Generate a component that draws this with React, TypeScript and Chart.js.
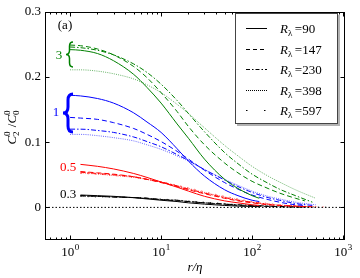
import React, { useEffect, useRef } from "react";
import { Chart, registerables } from "chart.js";

Chart.register(...registerables);

// ---- data ----
const reLabels = ["90", "147", "230", "398", "597"];

const r90 = [1, 1.3, 2, 3, 5, 7, 10, 15, 20, 30, 50, 70, 100, 120];
const r147 = [1, 1.3, 2, 3, 5, 7, 10, 15, 20, 30, 50, 70, 100, 150, 200, 300, 380];
const r230 = [1, 1.3, 2, 3, 5, 7, 10, 15, 20, 30, 50, 70, 100, 150, 200, 300, 460];
const r398 = [1, 1.3, 2, 3, 5, 7, 10, 15, 20, 30, 50, 70, 100, 150, 200, 300, 500];
const r597 = [1, 1.3, 2, 3, 5, 7, 10, 15, 20, 30, 50, 70, 100, 150, 200, 300, 500, 700];

// group l = 3 (green)
const green90 = [0.242, 0.241, 0.236, 0.225, 0.204, 0.184, 0.160, 0.128, 0.106, 0.074, 0.043, 0.029, 0.018, 0.014];
const green147 = [0.249, 0.248, 0.243, 0.234, 0.216, 0.199, 0.176, 0.147, 0.124, 0.096, 0.068, 0.053, 0.040, 0.029, 0.022, 0.014, 0.010];
const green230 = [0.246, 0.245, 0.241, 0.234, 0.220, 0.207, 0.189, 0.164, 0.144, 0.116, 0.084, 0.067, 0.051, 0.037, 0.028, 0.018, 0.008];
const green398 = [0.211, 0.211, 0.209, 0.205, 0.197, 0.188, 0.176, 0.158, 0.144, 0.122, 0.095, 0.079, 0.063, 0.048, 0.039, 0.027, 0.014];

// group l = 1 (blue)
const blue90 = [0.172, 0.171, 0.167, 0.160, 0.145, 0.131, 0.115, 0.090, 0.071, 0.048, 0.027, 0.018, 0.011, 0.009];
const blue147 = [0.138, 0.137, 0.135, 0.130, 0.121, 0.112, 0.101, 0.086, 0.074, 0.057, 0.038, 0.028, 0.019, 0.012, 0.008, 0.004, 0.003];
const blue230 = [0.120, 0.120, 0.118, 0.115, 0.108, 0.101, 0.093, 0.081, 0.072, 0.058, 0.042, 0.032, 0.023, 0.015, 0.011, 0.006, 0.003];
const blue398 = [0.112, 0.112, 0.110, 0.107, 0.102, 0.096, 0.089, 0.079, 0.071, 0.058, 0.043, 0.034, 0.025, 0.017, 0.013, 0.008, 0.004];

// group l = 0.5 (red)
const red90 = [null, 0.066, 0.063, 0.059, 0.052, 0.046, 0.039, 0.031, 0.025, 0.017, 0.010, 0.007, 0.004, 0.003];
const red147 = [null, 0.055, 0.053, 0.051, 0.047, 0.043, 0.038, 0.032, 0.027, 0.021, 0.014, 0.010, 0.007, 0.004, 0.003, 0.002, 0.001];
const red230 = [null, 0.054, 0.052, 0.050, 0.047, 0.043, 0.039, 0.033, 0.028, 0.022, 0.015, 0.011, 0.008, 0.005, 0.003, 0.002, 0.001];
const red398 = [null, 0.053, 0.051, 0.049, 0.046, 0.043, 0.039, 0.033, 0.029, 0.023, 0.016, 0.012, 0.008, 0.005, 0.004, 0.002, 0.001];
const red597 = [null, 0.052, 0.051, 0.049, 0.046, 0.043, 0.039, 0.034, 0.030, 0.024, 0.017, 0.013, 0.009, 0.006, 0.004, 0.002, 0.001, 0.0005];

// group l = 0.3 (black)
const black90 = [null, 0.019, 0.018, 0.017, 0.015, 0.013, 0.011, 0.009, 0.007, 0.005, 0.003, 0.002, 0.0015, 0.001];
const black147 = [null, 0.018, 0.017, 0.016, 0.015, 0.014, 0.012, 0.010, 0.009, 0.007, 0.005, 0.003, 0.002, 0.0015, 0.001, 0.0005, 0.0003];
const black230 = [null, 0.018, 0.017, 0.016, 0.015, 0.014, 0.012, 0.011, 0.009, 0.007, 0.005, 0.004, 0.003, 0.002, 0.0015, 0.001, 0.0005];
const black398 = [null, 0.017, 0.017, 0.016, 0.015, 0.014, 0.012, 0.011, 0.009, 0.007, 0.005, 0.004, 0.003, 0.002, 0.0015, 0.001, 0.0005];
const black597 = [null, 0.017, 0.016, 0.016, 0.015, 0.014, 0.013, 0.011, 0.010, 0.008, 0.006, 0.004, 0.003, 0.002, 0.0015, 0.001, 0.0005, 0.0003];

const groupLabels = ["3", "1", "0.5", "0.3"];
const yTicks = [0, 0.1, 0.2, 0.3];
const xTicks = [1, 10, 100, 1000];
const xRange = [0.53, 1050];
const yRange = [-0.05, 0.3];
const zeroLineY = [0, 0];

// ---- styles ----
const rArrays = [r90, r147, r230, r398, r597];
const groups = [
  { rgb: "0,128,0", series: [green90, green147, green230, green398, null] },
  { rgb: "0,0,255", series: [blue90, blue147, blue230, blue398, null] },
  { rgb: "255,0,0", series: [red90, red147, red230, red398, red597] },
  { rgb: "0,0,0", series: [black90, black147, black230, black398, black597] },
];
const dashes: number[][] = [[], [5, 3], [5, 2, 1.5, 2], [1, 1.2], [1.2, 6]];
const alphas = [1, 1, 1, 0.6, 0.7];
const legendDashes: number[][] = [[], [4, 3], [4, 2, 1.5, 2], [1, 1], [1.5, 16.5]];
const SERIF = '"Liberation Serif", "DejaVu Serif", serif';

function drawBrace(ctx: CanvasRenderingContext2D, x: number, yTop: number, yBot: number, w: number) {
  const mid = (yTop + yBot) / 2;
  const xm = x + w / 2;
  const c = Math.min(6, (yBot - yTop) / 6);
  ctx.beginPath();
  ctx.moveTo(x + w, yTop);
  ctx.quadraticCurveTo(xm, yTop, xm, yTop + c);
  ctx.lineTo(xm, mid - c);
  ctx.quadraticCurveTo(xm, mid, x, mid);
  ctx.quadraticCurveTo(xm, mid, xm, mid + c);
  ctx.lineTo(xm, yBot - c);
  ctx.quadraticCurveTo(xm, yBot, x + w, yBot);
  ctx.stroke();
}

const overlayPlugin = {
  id: "overlay",
  afterDraw(chart: any) {
    const { ctx, chartArea: a, scales } = chart;
    const xs = scales.x;
    const ys = scales.y;
    ctx.save();
    // frame
    ctx.strokeStyle = "#000";
    ctx.lineWidth = 1;
    const L = Math.round(a.left) + 0.5;
    const R = Math.round(a.right) - 0.5;
    const T = Math.round(a.top) + 0.5;
    const B = Math.round(a.bottom) - 0.5;
    ctx.strokeRect(L, T, R - L, B - T);
    // x ticks (inward, top and bottom)
    ctx.beginPath();
    for (let n = -1; n <= 3; n++) {
      for (let k = 1; k <= 9; k++) {
        const v = k * Math.pow(10, n);
        if (v < xRange[0] || v > xRange[1]) continue;
        const px = Math.round(xs.getPixelForValue(v)) + 0.5;
        const len = k === 1 ? 4 : 2;
        ctx.moveTo(px, B);
        ctx.lineTo(px, B - len);
        ctx.moveTo(px, T);
        ctx.lineTo(px, T + len);
      }
    }
    for (const v of yTicks) {
      const py = Math.round(ys.getPixelForValue(v)) + 0.5;
      ctx.moveTo(L, py);
      ctx.lineTo(L + 4, py);
      ctx.moveTo(R, py);
      ctx.lineTo(R - 4, py);
    }
    ctx.stroke();

    // x tick labels 10^n
    ctx.fillStyle = "#000";
    ctx.textBaseline = "alphabetic";
    xTicks.forEach((v) => {
      const px = xs.getPixelForValue(v);
      const exp = String(Math.round(Math.log10(v)));
      ctx.font = `13px ${SERIF}`;
      const w1 = ctx.measureText("10").width;
      ctx.font = `9px ${SERIF}`;
      const w2 = ctx.measureText(exp).width;
      const x0 = px - (w1 + w2) / 2;
      ctx.font = `13px ${SERIF}`;
      ctx.textAlign = "left";
      ctx.fillText("10", x0, a.bottom + 16);
      ctx.font = `9px ${SERIF}`;
      ctx.fillText(exp, x0 + w1 + 0.5, a.bottom + 10);
    });

    // x title
    ctx.font = `italic 13px ${SERIF}`;
    ctx.textAlign = "center";
    ctx.fillText("r/η", (a.left + a.right) / 2, 271);

    // y title (rotated) C_2^0 / C_0^0
    ctx.save();
    ctx.translate(16, 127);
    ctx.rotate(-Math.PI / 2);
    ctx.font = `italic 13px ${SERIF}`;
    const cw = ctx.measureText("C").width;
    ctx.font = `9px ${SERIF}`;
    const sw = ctx.measureText("0").width;
    ctx.font = `13px ${SERIF}`;
    const slw = ctx.measureText(" /").width;
    const total = cw + sw + 1 + slw + cw + sw + 1;
    let cx = -total / 2;
    ctx.textAlign = "left";
    ctx.font = `italic 13px ${SERIF}`;
    ctx.fillText("C", cx, 0);
    cx += cw;
    ctx.font = `9px ${SERIF}`;
    ctx.fillText("0", cx, -6);
    ctx.fillText("2", cx, 3);
    cx += sw + 1;
    ctx.font = `13px ${SERIF}`;
    ctx.fillText(" /", cx, 0);
    cx += slw;
    ctx.font = `italic 13px ${SERIF}`;
    ctx.fillText("C", cx, 0);
    cx += cw;
    ctx.font = `9px ${SERIF}`;
    ctx.fillText("0", cx, -6);
    ctx.fillText("0", cx, 3);
    ctx.restore();

    // panel label
    ctx.font = `13px ${SERIF}`;
    ctx.textAlign = "center";
    ctx.textBaseline = "middle";
    ctx.fillStyle = "#000";
    ctx.fillText("(a)", 65, 26);

    // group labels and braces
    ctx.fillStyle = "rgb(0,128,0)";
    ctx.fillText(groupLabels[0], 59, 56);
    ctx.strokeStyle = "rgb(0,128,0)";
    ctx.lineWidth = 1.5;
    drawBrace(ctx, 66, 42, 67, 7);

    ctx.fillStyle = "rgb(0,0,255)";
    ctx.fillText(groupLabels[1], 56, 113);
    ctx.strokeStyle = "rgb(0,0,255)";
    ctx.lineWidth = 3;
    drawBrace(ctx, 63, 94, 132, 10);

    ctx.fillStyle = "rgb(255,0,0)";
    ctx.fillText(groupLabels[2], 68, 168);
    ctx.fillStyle = "#000";
    ctx.fillText(groupLabels[3], 68, 195);

    // legend
    const bx = 235, by = 13, bw = 103, bh = 111;
    ctx.fillStyle = "rgba(0,0,0,0.3)";
    ctx.fillRect(bx + 2, by + 2, bw, bh);
    ctx.fillStyle = "#fff";
    ctx.fillRect(bx, by, bw, bh);
    ctx.strokeStyle = "#444";
    ctx.lineWidth = 1;
    ctx.strokeRect(bx + 0.5, by + 0.5, bw - 1, bh - 1);
    reLabels.forEach((lab, i) => {
      const yy = Math.round(28 + i * 20.5) + 0.5;
      ctx.strokeStyle = "#000";
      ctx.lineWidth = 1;
      ctx.setLineDash(legendDashes[i]);
      ctx.beginPath();
      ctx.moveTo(246, yy);
      ctx.lineTo(267, yy);
      ctx.stroke();
      ctx.setLineDash([]);
      ctx.fillStyle = "#000";
      ctx.textAlign = "left";
      ctx.textBaseline = "alphabetic";
      ctx.font = `italic 13px ${SERIF}`;
      ctx.fillText("R", 280, yy + 4.5);
      const rw = ctx.measureText("R").width;
      ctx.font = `9px ${SERIF}`;
      ctx.fillText("λ", 280 + rw, yy + 7);
      const lw = ctx.measureText("λ").width;
      ctx.font = `13px ${SERIF}`;
      ctx.fillText("=" + lab, 280 + rw + lw + 2.5, yy + 4.5);
    });
    ctx.restore();
  },
};

export default function App() {
  const ref = useRef<HTMLCanvasElement | null>(null);
  useEffect(() => {
    if (!ref.current) return;
    const datasets: any[] = [
      {
        data: xRange.map((x, i) => ({ x, y: zeroLineY[i] })),
        borderColor: "#000",
        borderWidth: 1,
        borderDash: [1.5, 2],
        pointRadius: 0,
      },
    ];
    groups.forEach((g) => {
      g.series.forEach((vals, j) => {
        if (!vals) return;
        const rs = rArrays[j];
        datasets.push({
          data: rs.map((x, i) => ({ x, y: vals[i] })).filter((p) => p.y !== null),
          borderColor: `rgba(${g.rgb},${alphas[j]})`,
          borderWidth: 1,
          borderDash: dashes[j],
          pointRadius: 0,
          cubicInterpolationMode: "monotone",
          fill: false,
        });
      });
    });
    const chart = new Chart(ref.current, {
      type: "line",
      data: { datasets },
      options: {
        animation: false,
        responsive: false,
        devicePixelRatio: 1,
        layout: { padding: { left: 0, right: 15, top: 9, bottom: 0 } },
        plugins: { legend: { display: false }, tooltip: { enabled: false } },
        scales: {
          x: {
            type: "logarithmic",
            min: xRange[0],
            max: xRange[1],
            grid: { display: false },
            border: { display: false },
            ticks: { display: false },
            afterFit: (s: any) => {
              s.height = 38;
            },
          },
          y: {
            min: yRange[0],
            max: yRange[1],
            grid: { display: false, drawTicks: false },
            border: { display: false },
            afterBuildTicks: (s: any) => {
              s.ticks = yTicks.map((v) => ({ value: v }));
            },
            ticks: {
              padding: 4,
              color: "#000",
              font: { family: SERIF, size: 13 },
              callback: (v: any) => String(Number(v)),
            },
            afterFit: (s: any) => {
              s.width = 45;
            },
          },
        },
      },
      plugins: [overlayPlugin],
    });
    return () => chart.destroy();
  }, []);
  return (
    <div style={{ position: "fixed", left: 0, top: 0, width: 360, height: 278, background: "#fff" }}>
      <canvas ref={ref} width={360} height={278} />
    </div>
  );
}
